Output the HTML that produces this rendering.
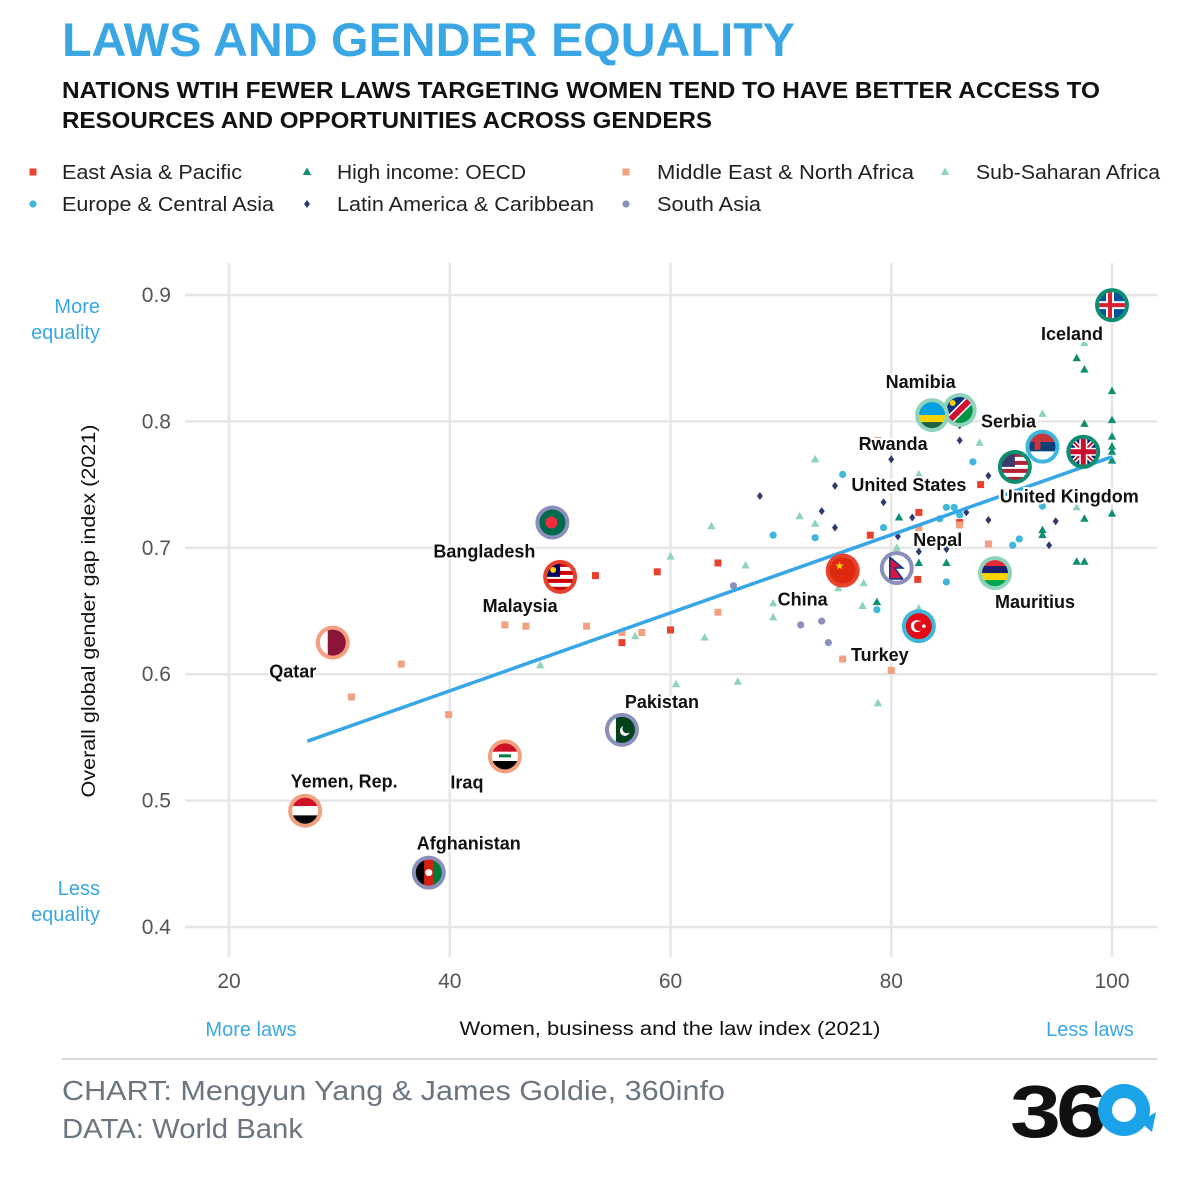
<!DOCTYPE html>
<html><head><meta charset="utf-8"><style>
html,body{margin:0;padding:0;background:#fff}
svg{display:block;font-family:"Liberation Sans",sans-serif}
</style></head><body>
<svg id="chart" width="1200" height="1200" viewBox="0 0 1200 1200">
<text x="62" y="56" font-size="47" font-weight="bold" fill="#3aa7e4" textLength="733" lengthAdjust="spacingAndGlyphs">LAWS AND GENDER EQUALITY</text>
<text x="62" y="98" font-size="23" font-weight="bold" fill="#111" textLength="1038" lengthAdjust="spacingAndGlyphs">NATIONS WTIH FEWER LAWS TARGETING WOMEN TEND TO HAVE BETTER ACCESS TO</text>
<text x="62" y="128" font-size="23" font-weight="bold" fill="#111" textLength="650" lengthAdjust="spacingAndGlyphs">RESOURCES AND OPPORTUNITIES ACROSS GENDERS</text>
<g id="legend"></g>
<g id="grid"></g>
<g id="axes"></g>
<g id="points"></g>
<g id="trend"></g>
<g id="highlights"></g>
<text x="100" y="313" font-size="20" fill="#3aa7e4" text-anchor="end">More</text>
<text x="100" y="339" font-size="20" fill="#3aa7e4" text-anchor="end">equality</text>
<text x="100" y="895" font-size="20" fill="#3aa7e4" text-anchor="end">Less</text>
<text x="100" y="921" font-size="20" fill="#3aa7e4" text-anchor="end">equality</text>
<text transform="translate(95,611) rotate(-90)" font-size="19" fill="#111" text-anchor="middle" textLength="373" lengthAdjust="spacingAndGlyphs">Overall global gender gap index (2021)</text>
<text x="670" y="1035" font-size="19" fill="#111" text-anchor="middle" textLength="421" lengthAdjust="spacingAndGlyphs">Women, business and the law index (2021)</text>
<text x="251" y="1036" font-size="20" fill="#3aa7e4" text-anchor="middle">More laws</text>
<text x="1090" y="1036" font-size="20" fill="#3aa7e4" text-anchor="middle">Less laws</text>
<line x1="62" y1="1059" x2="1157" y2="1059" stroke="#ccc" stroke-width="1.5"/>
<text x="62" y="1100" font-size="28" fill="#6b7580" textLength="663" lengthAdjust="spacingAndGlyphs">CHART: Mengyun Yang &amp; James Goldie, 360info</text>
<text x="62" y="1138" font-size="28" fill="#6b7580" textLength="241" lengthAdjust="spacingAndGlyphs">DATA: World Bank</text>
<g>
<text x="1010" y="1137" font-size="74" font-weight="bold" fill="#111" textLength="92" lengthAdjust="spacingAndGlyphs" letter-spacing="-4">36</text>
<circle cx="1124" cy="1110" r="26" fill="#1aa3e8"/>
<circle cx="1124" cy="1110" r="12" fill="#fff"/>
<path d="M1140 1122 L1156 1112 L1152 1132 Z" fill="#1aa3e8"/>
</g>
</svg>
<script>
const NS="http://www.w3.org/2000/svg";
const xTicks=[20,40,60,80,100];
const yTicks=[0.4,0.5,0.6,0.7,0.8,0.9];
const yTickLabels=["0.4","0.5","0.6","0.7","0.8","0.9"];
const regions=["East Asia & Pacific","High income: OECD","Middle East & North Africa","Sub-Saharan Africa","Europe & Central Asia","Latin America & Caribbean","South Asia"];
const eapX=[53.2,58.8,64.3,55.6,60,78.1,82.5,82.4,86.2,88.1];
const eapY=[0.678,0.681,0.688,0.625,0.635,0.710,0.728,0.675,0.720,0.750];
const menaX=[31.1,35.6,39.9,45,46.9,52.4,55.6,57.4,64.3,75.6,80,78.8,82.5,86.2,88.8];
const menaY=[0.582,0.608,0.568,0.639,0.638,0.638,0.633,0.633,0.649,0.612,0.603,0.785,0.716,0.718,0.703];
const oecdX=[96.8,97.5,100,100,97.5,100,100,100,100,97.5,97.5,97.5,100,93.7,96.8,97.5,78.7,82.5,80.7,85,93.7];
const oecdY=[0.850,0.841,0.824,0.801,0.798,0.788,0.780,0.776,0.769,0.785,0.765,0.723,0.727,0.714,0.689,0.689,0.657,0.688,0.724,0.688,0.710];
const ssaX=[97.5,93.7,73.1,63.7,60,66.8,71.7,73.1,69.3,69.3,77.5,75.2,82.5,82.5,77.4,78.8,63.1,66.1,60.5,56.8,48.2,84.4,88,96.8,80.5];
const ssaY=[0.862,0.806,0.770,0.717,0.693,0.686,0.725,0.719,0.656,0.645,0.672,0.668,0.758,0.652,0.654,0.577,0.629,0.594,0.592,0.630,0.607,0.706,0.783,0.732,0.700];
const ecaX=[69.3,73.1,75.6,79.3,78.7,85,85.7,87.4,86.2,85,91,91.6,93.7,84.4];
const ecaY=[0.710,0.708,0.758,0.716,0.651,0.732,0.732,0.768,0.726,0.673,0.702,0.707,0.733,0.723];
const lacX=[68.1,73.7,74.9,74.9,80,79.3,80.6,81.9,82.5,86.2,86.2,88.8,86.8,88.8,94.3,94.9,85];
const lacY=[0.741,0.729,0.749,0.716,0.770,0.736,0.709,0.724,0.697,0.797,0.785,0.757,0.728,0.722,0.702,0.721,0.699];
const saX=[65.7,71.8,73.7,74.3];
const saY=[0.670,0.639,0.642,0.625];
const trendX=[27.1,100];
const trendY=[0.547,0.772];
const hlNames=["Iceland","Namibia","Rwanda","Serbia","United Kingdom","United States","Nepal","China","Mauritius","Turkey","Bangladesh","Malaysia","Qatar","Pakistan","Iraq","Yemen, Rep.","Afghanistan"];
const hlX=[100,86.2,83.7,93.7,97.4,91.2,80.5,75.6,89.4,82.5,49.3,50.0,29.4,55.6,45.0,26.9,38.1];
const hlY=[0.892,0.809,0.805,0.780,0.776,0.764,0.684,0.682,0.680,0.638,0.720,0.677,0.625,0.556,0.535,0.492,0.443];
const hlRegion=[1,3,3,4,1,1,6,0,3,4,6,0,2,6,2,2,6];

const COL=["#e8412d","#0c8f70","#f2a07f","#8fd3bd","#3fb6dc","#2f3a70","#8a8fbb"];
const X=v=>229+(v-20)*11.0375;
const Y=v=>295+(0.9-v)*1264;
function mk(tag,attrs,parent){const e=document.createElementNS(NS,tag);for(const k in attrs)e.setAttribute(k,attrs[k]);parent.appendChild(e);return e;}
const grid=document.getElementById('grid'),axes=document.getElementById('axes');
xTicks.forEach(t=>{
  const l=mk('line',{x1:X(t),x2:X(t),y1:263,y2:957,stroke:'#e6e6e6','stroke-width':2.5},grid);
  
  
  const tx=mk('text',{x:X(t),y:988,'font-size':21,fill:'#555','text-anchor':'middle'},axes);tx.textContent=t;
  
  
});
yTicks.forEach((t,i)=>{
  const l=mk('line',{x1:185,x2:1157,y1:Y(t),y2:Y(t),stroke:'#e6e6e6','stroke-width':2.5},grid);
  
  
  const tx=mk('text',{x:171,y:Y(t)+7,'font-size':21,fill:'#555','text-anchor':'end'},axes);tx.textContent=yTickLabels[i];
  
  
});
function marker(r,cx,cy,parent){
  const c=COL[r];let e;
  if(r===0||r===2)e=mk('rect',{x:cx-3.5,y:cy-3.5,width:7,height:7,fill:c},parent);
  else if(r===1||r===3)e=mk('path',{d:`M${cx} ${cy-4.5}L${cx+4.2} ${cy+3}L${cx-4.2} ${cy+3}Z`,fill:c},parent);
  else if(r===4||r===6)e=mk('circle',{cx:cx,cy:cy,r:3.6,fill:c},parent);
  else e=mk('path',{d:`M${cx} ${cy-4}L${cx+3} ${cy}L${cx} ${cy+4}L${cx-3} ${cy}Z`,fill:c},parent);
  return e;
}
const pts=document.getElementById('points');
[[eapX,eapY,0],[oecdX,oecdY,1],[menaX,menaY,2],[ssaX,ssaY,3],[ecaX,ecaY,4],[lacX,lacY,5],[saX,saY,6]].forEach(([xs,ys,r])=>{
  xs.forEach((v,i)=>{const e=marker(r,X(v),Y(ys[i]),pts);
    
    });
});
const leg=document.getElementById('legend');
const legX=[33,307,626,945,33,307,626],legY=[172,172,172,172,204,204,204],legTX=[62,337,657,976,62,337,657];
const legW=[180,189,257,184,212,257,104];
[0,1,2,3,4,5,6].forEach((r,i)=>{
  const m=marker(r,legX[i],legY[i],leg);
  
  
  const t=mk('text',{x:legTX[i],y:legY[i]+7,'font-size':20,fill:'#222',textLength:legW[i],lengthAdjust:'spacingAndGlyphs'},leg);t.textContent=regions[r];
  
  
});
const tl=mk('line',{x1:X(trendX[0]),y1:Y(trendY[0]),x2:X(trendX[1]),y2:Y(trendY[1]),stroke:'#36a6e6','stroke-width':3.5},document.getElementById('trend'));


const defs=mk('defs',{},document.getElementById('chart'));
function hs(g,cols,w,h){const n=cols.length;cols.forEach((c,i)=>mk('rect',{x:-w,y:-h+i*2*h/n,width:2*w,height:2*h/n+0.5,fill:c},g));}
function vs(g,cols,w,h){const n=cols.length;cols.forEach((c,i)=>mk('rect',{x:-w+i*2*w/n,y:-h,width:2*w/n+0.5,height:2*h,fill:c},g));}
const flags={
"Iceland":g=>{hs(g,['#02529c'],14,14);mk('rect',{x:-14,y:-4,width:28,height:8,fill:'#fff'},g);mk('rect',{x:-6,y:-14,width:8,height:28,fill:'#fff'},g);mk('rect',{x:-14,y:-2,width:28,height:4,fill:'#dc1e35'},g);mk('rect',{x:-4,y:-14,width:4,height:28,fill:'#dc1e35'},g);},
"United Kingdom":g=>{hs(g,['#012169'],14,14);mk('path',{d:'M-14 -14L14 14M14 -14L-14 14',stroke:'#fff','stroke-width':5},g);mk('path',{d:'M-14 -14L14 14M14 -14L-14 14',stroke:'#c8102e','stroke-width':2},g);mk('rect',{x:-14,y:-4,width:28,height:8,fill:'#fff'},g);mk('rect',{x:-4,y:-14,width:8,height:28,fill:'#fff'},g);mk('rect',{x:-14,y:-2.5,width:28,height:5,fill:'#c8102e'},g);mk('rect',{x:-2.5,y:-14,width:5,height:28,fill:'#c8102e'},g);},
"Namibia":g=>{mk('path',{d:'M-14 -14H14L-14 14Z',fill:'#003580'},g);mk('path',{d:'M14 -14V14H-14Z',fill:'#009543'},g);mk('path',{d:'M-14 14L14 -14',stroke:'#fff','stroke-width':9},g);mk('path',{d:'M-14 14L14 -14',stroke:'#d21034','stroke-width':6},g);mk('circle',{cx:-7,cy:-7,r:3,fill:'#ffce00'},g);},
"Rwanda":g=>{mk('rect',{x:-14,y:-14,width:28,height:14,fill:'#00a1de'},g);mk('rect',{x:-14,y:0,width:28,height:7,fill:'#fad201'},g);mk('rect',{x:-14,y:7,width:28,height:7,fill:'#20603d'},g);},
"Serbia":g=>{hs(g,['#c6363c','#0c4076','#fff'],14,14);mk('rect',{x:-8,y:-7,width:6,height:10,fill:'#c6363c'},g);},
"United States":g=>{hs(g,['#b22234','#fff','#b22234','#fff','#b22234','#fff','#b22234'],14,14);mk('rect',{x:-14,y:-14,width:14,height:14,fill:'#3c3b6e'},g);},
"Nepal":g=>{hs(g,['#fff'],14,14);mk('path',{d:'M-7 -11L6 0H-2L6 11H-7Z',fill:'#dc143c',stroke:'#003893','stroke-width':1.5},g);},
"China":g=>{hs(g,['#de2910'],14,14);mk('text',{x:-8,y:-1,'font-size':11,fill:'#ffde00'},g).textContent='★';},
"Mauritius":g=>{hs(g,['#ea2839','#1a206d','#ffd500','#00a551'],14,14);},
"Turkey":g=>{hs(g,['#e30a17'],14,14);mk('circle',{cx:-2,cy:0,r:6,fill:'#fff'},g);mk('circle',{cx:0,cy:0,r:4.8,fill:'#e30a17'},g);mk('circle',{cx:5,cy:0,r:1.8,fill:'#fff'},g);},
"Bangladesh":g=>{hs(g,['#006a4e'],14,14);mk('circle',{cx:-1,cy:0,r:6,fill:'#f42a41'},g);},
"Malaysia":g=>{hs(g,['#cc0001','#fff','#cc0001','#fff','#cc0001','#fff','#cc0001'],14,14);mk('rect',{x:-14,y:-14,width:14,height:14,fill:'#010066'},g);mk('circle',{cx:-7,cy:-7,r:3,fill:'#fc0'},g);},
"Qatar":g=>{hs(g,['#8a1538'],14,14);mk('rect',{x:-14,y:-14,width:9,height:28,fill:'#fff'},g);},
"Pakistan":g=>{hs(g,['#01411c'],14,14);mk('rect',{x:-14,y:-14,width:8,height:28,fill:'#fff'},g);mk('circle',{cx:3,cy:1,r:5,fill:'#fff'},g);mk('circle',{cx:5,cy:-1,r:4.5,fill:'#01411c'},g);},
"Iraq":g=>{hs(g,['#ce1126','#fff','#000'],14,14);mk('rect',{x:-6,y:-2,width:12,height:3,fill:'#007a3d'},g);},
"Yemen, Rep.":g=>{hs(g,['#ce1126','#fff','#000'],14,14);},
"Afghanistan":g=>{vs(g,['#000','#d32011','#007a36'],14,14);mk('circle',{cx:0,cy:0,r:3.5,fill:'#fff'},g);}
};
const cp=mk('clipPath',{id:'fc'},defs);mk('circle',{cx:0,cy:0,r:13},cp);
const labDX=[-40,-39,-39,-34,-14,-106,41,-40,40,-39,-68,-40,-40,40,-38,39,40];
const labDY=[35,-22,35,-19,51,24,-22,35,35,35,35,35,35,-22,32,-23,-23];
const hl=document.getElementById('highlights');
hlNames.forEach((n,i)=>{
  const cx=X(hlX[i]),cy=Y(hlY[i]);
  const g=mk('g',{transform:`translate(${cx},${cy})`},hl);
  
  
  mk('circle',{cx:0,cy:0,r:17,fill:COL[hlRegion[i]]},g);
  const inner=mk('g',{'clip-path':'url(#fc)'},g);
  flags[n](inner);
  const t=mk('text',{x:cx+labDX[i],y:cy+labDY[i],'font-size':18,'font-weight':'bold',fill:'#111','text-anchor':'middle',stroke:'#fff','stroke-width':4,'paint-order':'stroke'},hl);
  t.textContent=n;
  
  
});
</script>
</body></html>
